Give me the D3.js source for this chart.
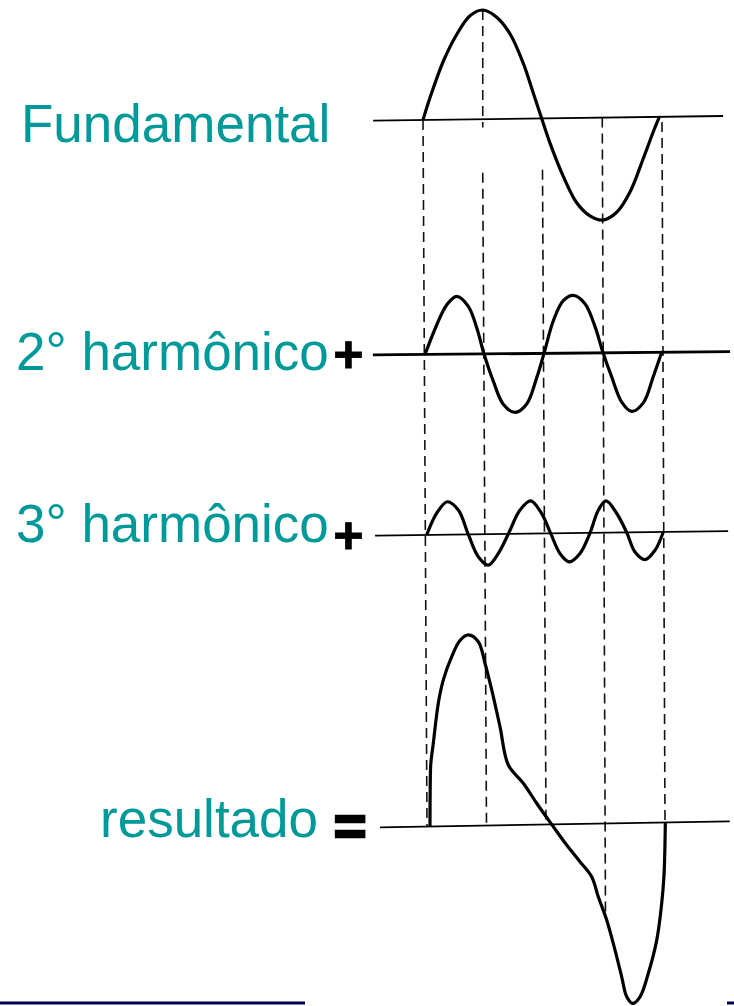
<!DOCTYPE html>
<html>
<head>
<meta charset="utf-8">
<script src="https://cdn.jsdelivr.net/npm/d3@7"></script>
<style>
  body { margin: 0; background: #fff; }
  .label { font-family: "Liberation Sans", Arial, sans-serif; font-size: 53px; fill: #009999; }
  .op { font-family: "Liberation Sans", Arial, sans-serif; font-weight: bold; fill: #000; }
</style>
</head>
<body>
<svg id="chart" width="734" height="1006"></svg>
<script>
// phase in degrees, amplitude relative to the fundamental
var guideDegrees = [0, 90, 180, 270, 360];

var fundamental = [[0,0],[10.5,0.21],[30.6,0.557],[50.8,0.81],[70.8,0.986],[89.9,1.04],
  [111,0.97],[131,0.81],[151.1,0.526],[166.2,0.24],[178.8,0],[191.3,-0.236],[211.3,-0.554],
  [231.5,-0.808],[251.5,-0.935],[270.7,-0.976],[291.8,-0.903],[311.8,-0.712],[331.8,-0.395],
  [346.9,-0.141],[356,0]];

var harmonic2 = [[1.5,0],[19.1,0.28],[34.2,0.47],[49.3,0.55],[66.7,0.454],[79.4,0.25],[90.4,0],
  [104.4,-0.26],[119.4,-0.48],[137.1,-0.56],[154.7,-0.48],[169.8,-0.23],[180.8,0],[194.8,0.31],
  [209.8,0.5],[224.9,0.55],[242.5,0.47],[257.6,0.25],[269.2,0.01],[282.7,-0.23],[297.8,-0.47],
  [312.9,-0.56],[330.3,-0.48],[345.4,-0.23],[358,0]];

var harmonic3 = [[1.1,0],[16.2,0.206],[32.2,0.314],[48.9,0.234],[64,0],[79.1,-0.213],[94.2,-0.294],
  [109.4,-0.184],[124.5,0],[142.2,0.226],[158.4,0.312],[175,0.19],[188.6,0],[202.7,-0.192],
  [216.8,-0.273],[232.9,-0.194],[248.1,0],[260.6,0.215],[272.3,0.303],[288.5,0.182],[303.6,0],
  [316.1,-0.187],[331.3,-0.26],[346.4,-0.173],[358.9,0]];

var resultado = [[4.5,0],[4.9,0.4],[5.8,0.6],[9.5,0.79],[17.1,1.173],[24.7,1.394],[37.4,1.614],[49.9,1.766],
  [62.5,1.818],[77.6,1.752],[87.7,1.546],[97.9,1.29],[110.4,0.94],[123,0.573],[145.7,0.396],
  [165.9,0.204],[188.6,0],[211.3,-0.199],[231.4,-0.36],[249.1,-0.505],[259.1,-0.697],[271.8,-0.92],
  [284.4,-1.208],[294.5,-1.463],[302.1,-1.654],[311.1,-1.718],[322.2,-1.656],[334.7,-1.435],
  [347.5,-1.119],[355,-0.77],[358.5,-0.5],[360.5,0]];

var labels = ["Fundamental", "2° harmônico", "3° harmônico", "resultado"];
var operators = ["", "+", "+", "="];

// dashed guides: [degree, panel, value, panel, value]
var guideSegments = [
  [0, "F", 0, "R", 0],
  [90, "F", 1.04, "F", -0.08],
  [90, "F", -0.51, "R", 0],
  [180, "F", -0.49, "R", 0],
  [270, "F", 0, "R", -0.9],
  [360, "F", -0.05, "R", 0]
];

var svg = d3.select("#chart");
var amp = 105;

// each scanned panel is slightly shifted / tilted
var panels = {
  F:  { data: fundamental, x: [423, 662], base: [120, 116.8], ext: [-75, 452], lw: 1.8,
        label: 0, lx: 21, ly: 142 },
  H2: { data: harmonic2, x: [424, 663], base: [354.5, 352.3], ext: [-77, 461], lw: 2.8,
        label: 1, lx: 16, ly: 370, ox: 348.5, oy: 372, os: 52 },
  H3: { data: harmonic3, x: [426, 664], base: [535, 532], ext: [-77, 457], lw: 1.8,
        label: 2, lx: 16, ly: 542, ox: 348.5, oy: 553, os: 52 },
  R:  { data: resultado, x: [427, 665], base: [826.5, 822.5], ext: [-71, 458], lw: 1.8,
        label: 3, lx: 100, ly: 837, ox: 350, oy: 845, os: 56 }
};

var ampScale = d3.scaleLinear().domain([0, 1]).range([0, -amp]);

Object.keys(panels).forEach(function(k) {
  var p = panels[k];
  p.xScale = d3.scaleLinear().domain([0, 360]).range(p.x);
  p.baseScale = d3.scaleLinear().domain([0, 360]).range(p.base);
  p.y = function(deg, v) { return p.baseScale(deg) + ampScale(v); };
});

// guides first, so curves sit on top
svg.append("g")
  .selectAll("line")
  .data(guideSegments)
  .enter()
  .append("line")
  .attr("x1", function(d) { return panels[d[1]].xScale(d[0]); })
  .attr("y1", function(d) { return panels[d[1]].y(d[0], d[2]); })
  .attr("x2", function(d) { return panels[d[3]].xScale(d[0]); })
  .attr("y2", function(d) { return panels[d[3]].y(d[0], d[4]); })
  .attr("stroke", "#111")
  .attr("stroke-width", 1.6)
  .attr("stroke-dasharray", "10,6");

Object.keys(panels).forEach(function(k) {
  var p = panels[k];
  var g = svg.append("g").attr("class", "panel-" + k);

  // axis line
  g.append("line")
    .attr("x1", p.xScale(p.ext[0]))
    .attr("y1", p.y(p.ext[0], 0))
    .attr("x2", p.xScale(p.ext[1]))
    .attr("y2", p.y(p.ext[1], 0))
    .attr("stroke", "#000")
    .attr("stroke-width", p.lw);

  var line = d3.line()
    .x(function(d) { return p.xScale(d[0]); })
    .y(function(d) { return p.y(d[0], d[1]); })
    .curve(d3.curveCatmullRom.alpha(0.5));

  g.append("path")
    .datum(p.data)
    .attr("d", line)
    .attr("fill", "none")
    .attr("stroke", "#000")
    .attr("stroke-width", 3.2)
    .attr("stroke-linejoin", "round");

  g.append("text")
    .attr("class", "label")
    .attr("x", p.lx)
    .attr("y", p.ly)
    .text(labels[p.label]);

  if (operators[p.label]) {
    g.append("text")
      .attr("class", "op")
      .attr("x", p.ox)
      .attr("y", p.oy)
      .attr("text-anchor", "middle")
      .style("font-size", p.os + "px")
      .attr("stroke", "#000")
      .attr("stroke-width", operators[p.label] == "=" ? 2.5 : 0.8)
      .text(operators[p.label]);
  }
});

// slide footer rule
svg.append("line").attr("x1", 0).attr("x2", 305).attr("y1", 1003).attr("y2", 1003)
  .attr("stroke", "#000050").attr("stroke-width", 3);
svg.append("line").attr("x1", 727).attr("x2", 734).attr("y1", 1003).attr("y2", 1003)
  .attr("stroke", "#000050").attr("stroke-width", 3);
</script>
</body>
</html>
